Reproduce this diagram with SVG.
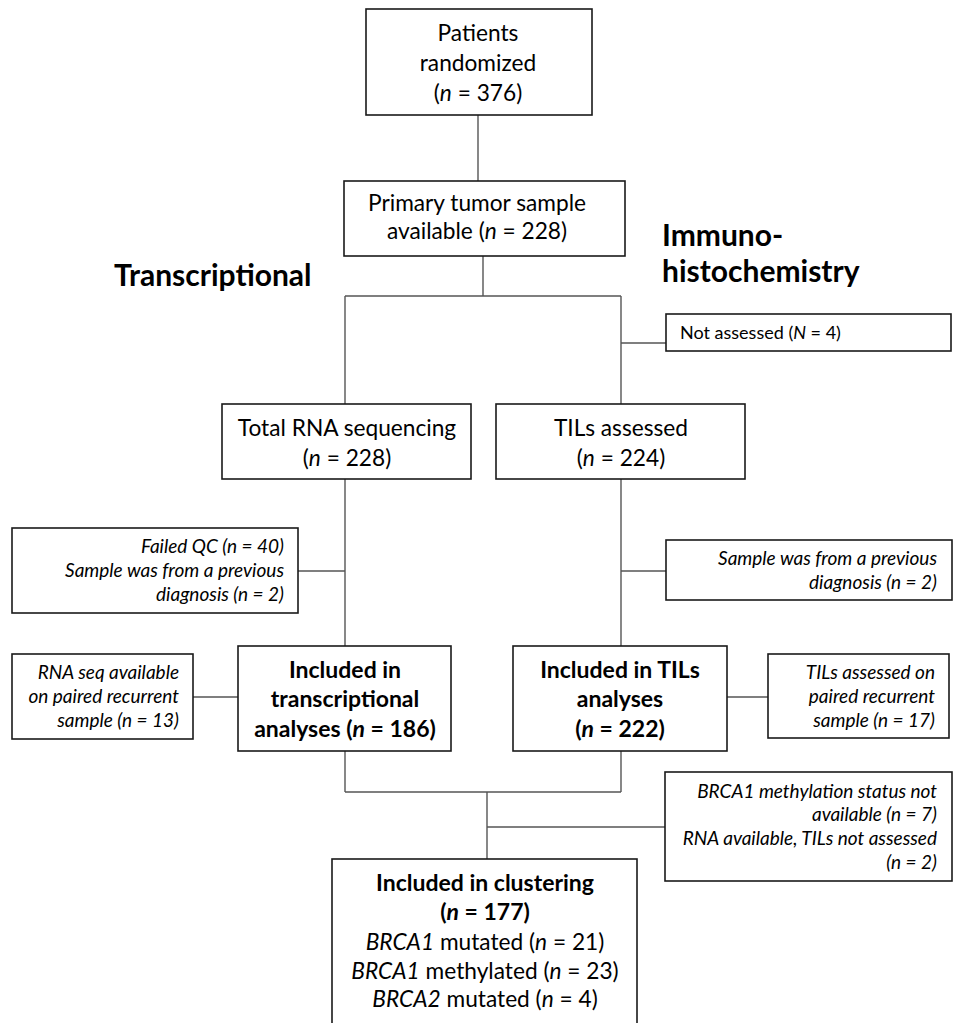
<svg xmlns="http://www.w3.org/2000/svg" width="954" height="1023" viewBox="0 0 954 1023">
<style>
.box{fill:#fff;stroke:#1a1a1a;stroke-width:1.6}
.con line{stroke:#555;stroke-width:1.4}
text{font-family:Lato,"Liberation Sans",sans-serif;fill:#000}
.m{font-size:22.7px;text-anchor:middle}
.b{font-size:23px;font-weight:bold;text-anchor:middle}
.s{font-size:19px;font-style:italic;text-anchor:end}
.h{font-size:30px;font-weight:bold}
.i{font-style:italic}
.nr{font-size:18px}
</style>
<rect width="954" height="1023" fill="#fff"/>
<g id="connectors" class="con">
<line x1="478" y1="115" x2="478" y2="181"/>
<line x1="483" y1="256" x2="483" y2="296"/>
<line x1="345" y1="296" x2="621" y2="296"/>
<line x1="345" y1="296" x2="345" y2="404"/>
<line x1="621" y1="296" x2="621" y2="404"/>
<line x1="621" y1="343" x2="666" y2="343"/>
<line x1="345" y1="479" x2="345" y2="646"/>
<line x1="298" y1="571" x2="345" y2="571"/>
<line x1="621" y1="479" x2="621" y2="646"/>
<line x1="621" y1="571" x2="666" y2="571"/>
<line x1="193" y1="697" x2="238" y2="697"/>
<line x1="727" y1="697" x2="768" y2="697"/>
<line x1="345" y1="751" x2="345" y2="792"/>
<line x1="621" y1="751" x2="621" y2="792"/>
<line x1="345" y1="792" x2="621" y2="792"/>
<line x1="487" y1="792" x2="487" y2="859"/>
<line x1="487" y1="827" x2="665" y2="827"/>
</g>
<g id="heading-transcriptional"><text class="h" x="114" y="286">Transcriptional</text></g>
<g id="heading-ihc"><text class="h" x="662" y="246">Immuno-</text><text class="h" x="662" y="282">histochemistry</text></g>
<g id="n1"><rect class="box" x="366" y="9" width="226" height="106"/>
<text class="m" x="478" y="41">Patients</text>
<text class="m" x="478" y="71">randomized</text>
<text class="m" x="478" y="101">(<tspan class="i">n</tspan> = 376)</text></g>
<g id="n2"><rect class="box" x="344" y="181" width="281" height="75"/>
<text class="m" x="477" y="211">Primary tumor sample</text>
<text class="m" x="477" y="239">available (<tspan class="i">n</tspan> = 228)</text></g>
<g id="n3"><rect class="box" x="222" y="404" width="249" height="75"/>
<text class="m" x="347" y="436">Total RNA sequencing</text>
<text class="m" x="347" y="466">(<tspan class="i">n</tspan> = 228)</text></g>
<g id="n4"><rect class="box" x="496" y="404" width="249" height="75"/>
<text class="m" x="621" y="436">TILs assessed</text>
<text class="m" x="621" y="466">(<tspan class="i">n</tspan> = 224)</text></g>
<g id="n5"><rect class="box" x="666" y="314" width="285" height="37"/>
<text class="nr" x="680" y="339">Not assessed (<tspan class="i">N</tspan> = 4)</text></g>
<g id="n6"><rect class="box" x="12" y="528" width="286" height="85"/>
<text class="s" x="284" y="553">Failed QC (n = 40)</text>
<text class="s" x="284" y="577">Sample was from a previous</text>
<text class="s" x="284" y="601">diagnosis (n = 2)</text></g>
<g id="n7"><rect class="box" x="666" y="540" width="286" height="60"/>
<text class="s" x="937" y="565">Sample was from a previous</text>
<text class="s" x="937" y="589">diagnosis (n = 2)</text></g>
<g id="n8"><rect class="box" x="12" y="654" width="181" height="85"/>
<text class="s" x="179" y="679">RNA seq available</text>
<text class="s" x="179" y="703">on paired recurrent</text>
<text class="s" x="179" y="727">sample (n = 13)</text></g>
<g id="n9"><rect class="box" x="238" y="646" width="213" height="105"/>
<text class="b" x="345" y="678">Included in</text>
<text class="b" x="345" y="707">transcriptional</text>
<text class="b" x="345" y="737">analyses (<tspan class="i">n</tspan> = 186)</text></g>
<g id="n10"><rect class="box" x="513" y="646" width="214" height="105"/>
<text class="b" x="620" y="678">Included in TILs</text>
<text class="b" x="620" y="707">analyses</text>
<text class="b" x="620" y="737">(<tspan class="i">n</tspan> = 222)</text></g>
<g id="n11"><rect class="box" x="768" y="654" width="181" height="84"/>
<text class="s" x="935" y="679">TILs assessed on</text>
<text class="s" x="935" y="703">paired recurrent</text>
<text class="s" x="935" y="727">sample (n = 17)</text></g>
<g id="n12"><rect class="box" x="665" y="772" width="287" height="109"/>
<text class="s" x="937" y="798">BRCA1 methylation status not</text>
<text class="s" x="937" y="821">available (n = 7)</text>
<text class="s" x="937" y="845">RNA available, TILs not assessed</text>
<text class="s" x="937" y="869">(n = 2)</text></g>
<g id="n13"><rect class="box" x="332" y="859" width="305" height="175"/>
<text class="b" x="485" y="891">Included in clustering</text>
<text class="b" x="485" y="920">(<tspan class="i">n</tspan> = 177)</text>
<text class="m" x="485" y="950"><tspan class="i">BRCA1</tspan> mutated (<tspan class="i">n</tspan> = 21)</text>
<text class="m" x="485" y="979"><tspan class="i">BRCA1</tspan> methylated (<tspan class="i">n</tspan> = 23)</text>
<text class="m" x="485" y="1007"><tspan class="i">BRCA2</tspan> mutated (<tspan class="i">n</tspan> = 4)</text></g>
</svg>
